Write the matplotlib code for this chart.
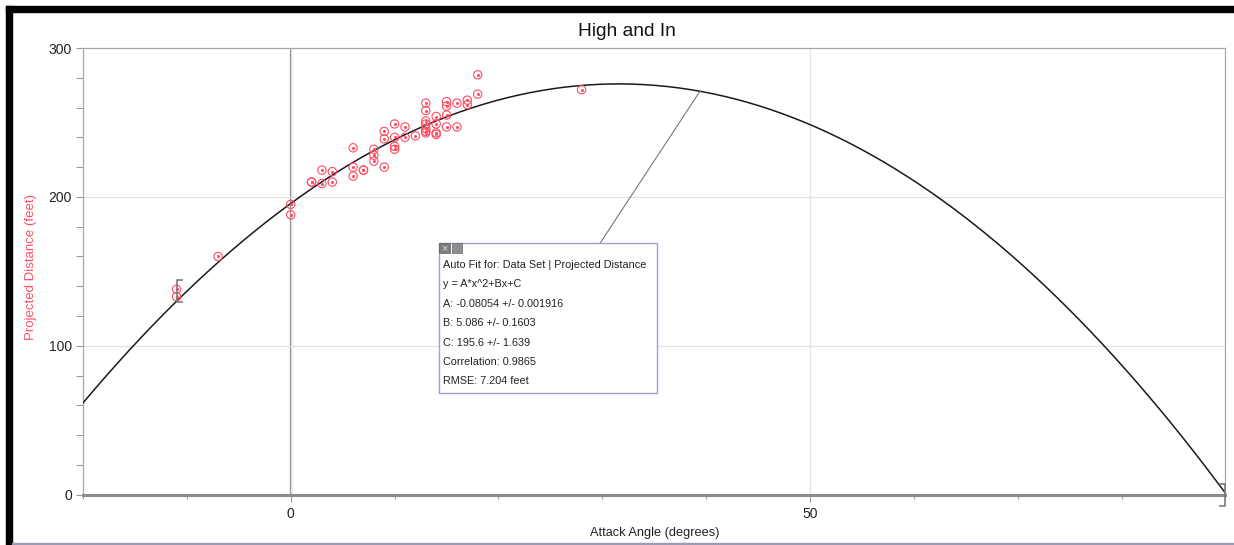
import numpy as np
import matplotlib.pyplot as plt
from matplotlib.patches import Rectangle
from matplotlib.ticker import MultipleLocator

plt.rcParams['font.family'] = ['Liberation Sans', 'DejaVu Sans']

# attack angle (degrees) vs projected distance (feet)
attack = [18, 18, 13, 13, 15, 15, 16, 17, 17, 15, 14, 13, 10, 11, 13, 14, 15, 16,
          13, 13, 13, 14, 14, 9, 9, 10, 11, 12, 10, 10, 8, 8, 8, 9, 6, 6, 6, 7, 7,
          3, 4, 2, 2, 3, 4, 0, 0, -7, -11, -11, 28]
distance = [282, 269, 263, 258, 264, 261, 263, 265, 262, 255, 254, 251, 249, 247,
            249, 249, 247, 247, 246, 244, 243, 243, 242, 244, 239, 240, 240, 241,
            234, 232, 232, 228, 224, 220, 233, 220, 214, 218, 218, 218, 217, 210,
            210, 209, 210, 195, 188, 160, 138, 133, 272]

# quadratic auto fit y = A*x^2 + B*x + C
A, B, C = -0.08054, 5.086, 195.6
fit_lines = ['Auto Fit for: Data Set | Projected Distance',
             'y = A*x^2+Bx+C',
             'A: -0.08054 +/- 0.001916',
             'B: 5.086 +/- 0.1603',
             'C: 195.6 +/- 1.639',
             'Correlation: 0.9865',
             'RMSE: 7.204 feet']
bracket_x = [-11, 90]
bracket_y = [137, 0]
leader_x = 39.4

red = '#ff4d62'
fig = plt.figure(figsize=(12.34, 5.45), dpi=100)
ax = fig.add_axes([0.0673, 0.0923, 0.9258, 0.8196])
ax.set_xlim(-20, 90)
ax.set_ylim(0, 300)

# light grid + dark axis through x = 0
ax.xaxis.set_major_locator(MultipleLocator(50))
ax.xaxis.set_minor_locator(MultipleLocator(10))
ax.yaxis.set_major_locator(MultipleLocator(100))
ax.yaxis.set_minor_locator(MultipleLocator(20))
ax.grid(True, which='major', color='#e2e2e2', lw=0.9, zorder=0)
ax.axvline(0, color='#8a8a8a', lw=1.6, zorder=1)

for side in ['top', 'right', 'left']:
    ax.spines[side].set_color('#a8a8a8')
    ax.spines[side].set_linewidth(0.9)
ax.spines['bottom'].set_color('#8c8c8c')
ax.spines['bottom'].set_linewidth(2.2)

ax.tick_params(axis='y', which='both', colors='#9a9a9a', labelcolor='#222222',
               labelsize=10, direction='out', length=5, width=0.8, pad=3)
ax.tick_params(axis='x', which='major', colors='#9a9a9a', labelcolor='#222222',
               labelsize=10, direction='out', length=5, width=0.8, pad=4)
ax.tick_params(axis='x', which='minor', colors='#9a9a9a', direction='out',
               length=3, width=0.8)

# fitted curve over whole x range
xs = np.linspace(-20, 90, 400)
ax.plot(xs, A * xs**2 + B * xs + C, color='#1a1a1a', lw=1.1, zorder=3)

# data points: open circle with a dot in the middle
ax.scatter(attack, distance, s=36, facecolors='none', edgecolors=red,
           linewidths=0.8, zorder=4)
ax.scatter(attack, distance, s=1.5, color=red, zorder=4)

# fit range brackets
for bx, by, sgn in zip(bracket_x, bracket_y, [1, -1]):
    ax.plot([bx + sgn * 0.5, bx, bx, bx + sgn * 0.5],
            [by + 7.5, by + 7.5, by - 7.5, by - 7.5],
            color='#7a7a7a', lw=1.2, clip_on=False, zorder=5)

# fit results box
bx0, by0, bw, bh = 0.3116, 0.2270, 0.1911, 0.3358
ax.add_patch(Rectangle((bx0, by0), bw, bh, transform=ax.transAxes,
                       facecolor='white', edgecolor='#a49ed2', lw=1.0, zorder=6))
ax.add_patch(Rectangle((bx0, by0 + bh - 0.0224), 0.0094, 0.0224,
                       transform=ax.transAxes, facecolor='#7d7d7d',
                       edgecolor='#5a5a5a', lw=0.5, zorder=7))
ax.add_patch(Rectangle((bx0 + 0.0114, by0 + bh - 0.0224), 0.0085, 0.0224,
                       transform=ax.transAxes, facecolor='#8e8e8e',
                       edgecolor='#6a6a6a', lw=0.5, zorder=7))
ax.text(bx0 + 0.0047, by0 + bh - 0.0112, '×', transform=ax.transAxes,
        ha='center', va='center', fontsize=8, color='#dddddd', zorder=8)
for i, line in enumerate(fit_lines):
    ax.text(bx0 + 0.0035, 0.5142 - i * 0.0434, line, transform=ax.transAxes,
            ha='left', va='center', fontsize=7.8, color='#222222', zorder=8)

ax.annotate('', xy=(leader_x, A * leader_x**2 + B * leader_x + C),
            xytext=(0.4525, by0 + bh), textcoords='axes fraction',
            arrowprops=dict(arrowstyle='-', color='#777777', lw=0.8,
                            shrinkA=0, shrinkB=0), zorder=5)

ax.set_title('High and In', fontsize=13.8, color='#111111', pad=9, x=0.476)
ax.set_xlabel('Attack Angle (degrees)', fontsize=9.2, color='#222222', labelpad=4)
ax.set_ylabel('Projected Distance (feet)', fontsize=9.5, color=red)
ax.yaxis.set_label_coords(-0.040, 0.51)

# black frame strips on top and left, thin line at the bottom
fig.patches.append(Rectangle((6 / 1234, 1 - 12 / 545), 1, 6 / 545,
                             transform=fig.transFigure, color='black'))
fig.patches.append(Rectangle((6 / 1234, 0), 6 / 1234, 1 - 6 / 545,
                             transform=fig.transFigure, color='black'))
fig.patches.append(Rectangle((12 / 1234, 1 / 545), 1, 1.2 / 545,
                             transform=fig.transFigure, color='#9a9ab4'))

fig.savefig('out.png', dpi=100)
plt.close(fig)
